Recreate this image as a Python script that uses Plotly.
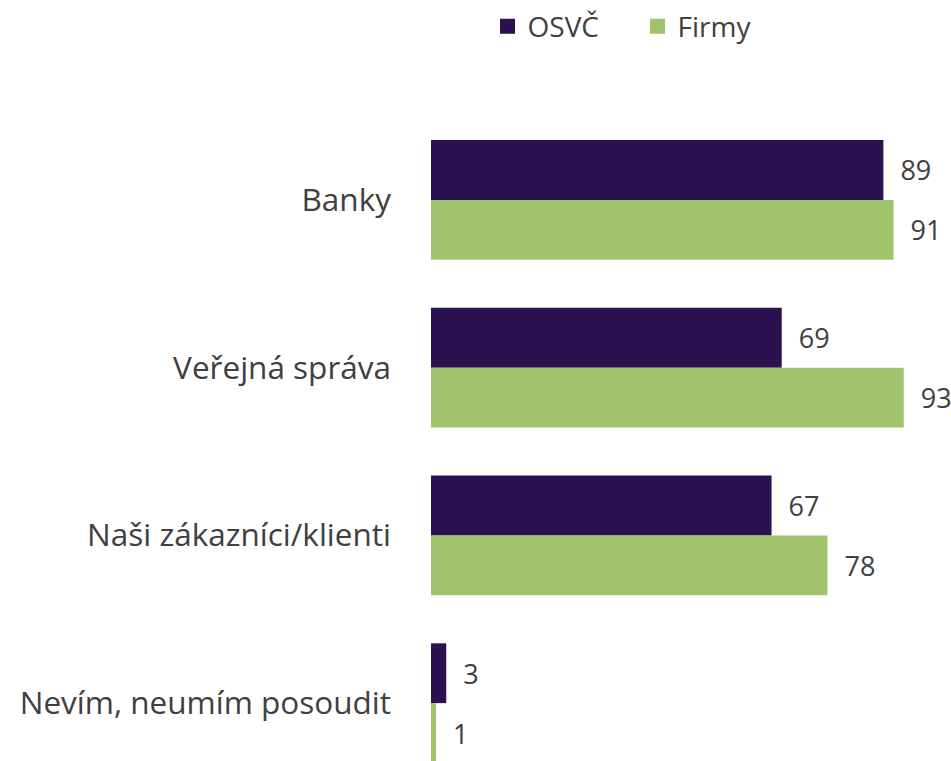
import plotly.graph_objects as go

categories = ["Banky", "Veřejná správa", "Naši zákazníci/klienti", "Nevím, neumím posoudit"]
osvc = [89, 69, 67, 3]
firmy = [91, 93, 78, 1]
series_names = ["OSVČ", "Firmy"]
colors = ["#2B1150", "#A0C46C"]

FONT = "'Open Sans', sans-serif"
TXT = "#404040"

fig = go.Figure()
for name, vals, col in zip(series_names, [osvc, firmy], colors):
    fig.add_trace(go.Bar(
        y=categories, x=vals, name=name, orientation="h",
        marker=dict(color=col, line=dict(width=0)),
        text=vals, texttemplate="  %{x}", textposition="outside",
        textfont=dict(family=FONT, size=27, color=TXT),
        showlegend=False,
    ))
# legend entries (square symbols)
for name, col in zip(series_names, colors):
    fig.add_trace(go.Scatter(
        x=[None], y=[None], mode="markers", name=name,
        marker=dict(symbol="square", size=15, color=col),
    ))

W, H = 951, 761
fig.update_layout(
    width=W, height=H,
    margin=dict(l=431, r=0, t=116, b=0),
    plot_bgcolor="white", paper_bgcolor="white",
    barmode="group", bargap=0.287, bargroupgap=0,
    font=dict(family=FONT, color=TXT),
    legend=dict(orientation="h", xref="container", yref="container",
                x=487.5 / W, xanchor="left", y=1 - 26.5 / H, yanchor="middle",
                font=dict(family=FONT, size=28, color=TXT),
                entrywidth=105, entrywidthmode="pixels"),
    xaxis=dict(range=[0, 102.3], visible=False, showgrid=False, zeroline=False),
    yaxis=dict(range=[3.345, -0.5], showgrid=False, zeroline=False, showline=False,
               ticks="", ticklabelstandoff=39,
               tickfont=dict(family=FONT, size=31.5, color=TXT)),
)

fig.write_html("out.html", config={"displayModeBar": False},
               post_script="document.body.style.margin='0';document.body.style.overflow='hidden';")
